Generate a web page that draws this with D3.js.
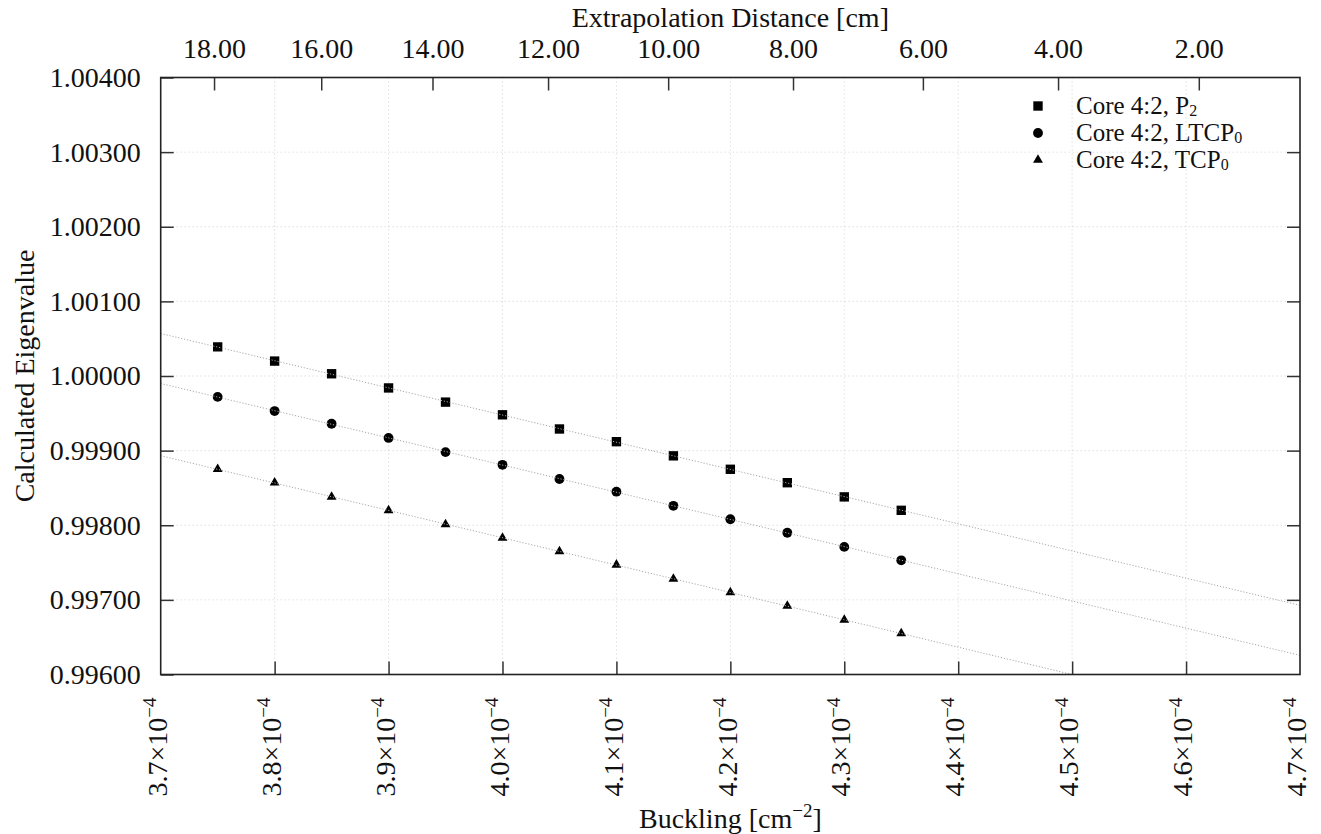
<!DOCTYPE html>
<html>
<head>
<meta charset="utf-8">
<script src="https://cdn.jsdelivr.net/npm/d3@7"></script>
<style>
  body { margin: 0; background: #fff; }
  svg text { font-family: "Liberation Serif", "Times New Roman", Tinos, "DejaVu Serif", "Noto Serif", serif; fill: #111; }
</style>
</head>
<body>
<div id="chart"></div>
<script>
// buckling values of the points [cm^-2]
const buckling = [3.75e-4, 3.80e-4, 3.85e-4, 3.90e-4, 3.95e-4, 4.00e-4, 4.05e-4,
                  4.10e-4, 4.15e-4, 4.20e-4, 4.25e-4, 4.30e-4, 4.35e-4]

// calculated eigenvalues
const p2 = [1.00039, 1.00020, 1.00003, 0.99984, 0.99965, 0.99948, 0.99929,
            0.99912, 0.99893, 0.99875, 0.99857, 0.99838, 0.99820]
const ltcp0 = [0.99972, 0.99953, 0.99936, 0.99917, 0.99898, 0.99881, 0.99862,
               0.99845, 0.99826, 0.99808, 0.99790, 0.99771, 0.99753]
const tcp0 = [0.99875, 0.99857, 0.99838, 0.99820, 0.99801, 0.99783, 0.99765,
              0.99747, 0.99728, 0.99710, 0.99692, 0.99673, 0.99655]

const xTicks = [3.7, 3.8, 3.9, 4.0, 4.1, 4.2, 4.3, 4.4, 4.5, 4.6, 4.7]   // x 1e-4
const yTicks = [0.996, 0.997, 0.998, 0.999, 1.000, 1.001, 1.002, 1.003, 1.004]
const distTicks = [18, 16, 14, 12, 10, 8, 6, 4, 2]   // extrapolation distance [cm]
const baseLength = 144.3   // cm, B = (pi / (L + d))^2

const series = [
  { name: 'P', sub: '2', values: p2, symbol: d3.symbolSquare, size: 88 },
  { name: 'LTCP', sub: '0', values: ltcp0, symbol: d3.symbolCircle, size: 76 },
  { name: 'TCP', sub: '0', values: tcp0, symbol: d3.symbolTriangle, size: 42 }
]

const width = 1321, height = 834
const plot = { left: 160.7, right: 1300, top: 77.5, bottom: 674.5 }
const serif = '"Liberation Serif", "Times New Roman", Tinos, "DejaVu Serif", "Noto Serif", serif'
const fontSize = 28, smallSize = 19

const x = d3.scaleLinear().domain([3.7e-4, 4.7e-4]).range([plot.left, plot.right])
const y = d3.scaleLinear().domain([0.996, 1.004]).range([plot.bottom, plot.top])

const svg = d3.select('#chart').append('svg')
  .attr('width', width)
  .attr('height', height)
  .attr('font-family', serif)

svg.append('clipPath').attr('id', 'plot-area')
  .append('rect')
  .attr('x', plot.left).attr('y', plot.top)
  .attr('width', plot.right - plot.left).attr('height', plot.bottom - plot.top)

// grid
const grid = svg.append('g')
  .attr('stroke', '#cfcfcf')
  .attr('stroke-width', 1)
  .attr('stroke-dasharray', '1,3')
grid.selectAll('.gx').data(xTicks.slice(1, -1)).enter().append('line')
  .attr('x1', d => x(d * 1e-4)).attr('x2', d => x(d * 1e-4))
  .attr('y1', plot.top).attr('y2', plot.bottom)
grid.selectAll('.gy').data(yTicks.slice(1, -1)).enter().append('line')
  .attr('x1', plot.left).attr('x2', plot.right)
  .attr('y1', d => y(d)).attr('y2', d => y(d))

// least squares fit for each series
function fit(xs, ys) {
  let mx = d3.mean(xs), my = d3.mean(ys)
  let sxy = d3.sum(xs, (v, i) => (v - mx) * (ys[i] - my))
  let sxx = d3.sum(xs, v => (v - mx) * (v - mx))
  let b = sxy / sxx
  return v => my + b * (v - mx)
}

const fg = svg.append('g').attr('clip-path', 'url(#plot-area)')

// points
series.forEach(s => {
  fg.append('g').selectAll('path')
    .data(s.values)
    .enter().append('path')
    .attr('transform', (v, i) => `translate(${x(buckling[i])},${y(v)})`)
    .attr('d', d3.symbol().type(s.symbol).size(s.size))
    .attr('fill', '#000')
})

// fit lines on top of the points
series.forEach(s => {
  let f = fit(buckling, s.values)
  fg.append('line')
    .attr('x1', x(3.7e-4)).attr('y1', y(f(3.7e-4)))
    .attr('x2', x(4.7e-4)).attr('y2', y(f(4.7e-4)))
    .attr('stroke', '#a8a8a8')
    .attr('stroke-width', 1)
    .attr('stroke-dasharray', '1.2,1.8')
})

// axes
let styleAxis = g => {
  g.attr('font-family', serif).attr('font-size', fontSize)
  g.select('.domain').remove()
  g.selectAll('.tick line').attr('stroke', '#333').attr('stroke-width', 1.5)
  g.selectAll('.tick text').attr('fill', '#111')
}

svg.append('g')
  .attr('transform', `translate(${plot.left},0)`)
  .call(d3.axisLeft(y).tickValues(yTicks).tickSize(-13).tickPadding(20).tickFormat(d3.format('.5f')))
  .call(styleAxis)

svg.append('g')
  .attr('transform', `translate(${plot.right},0)`)
  .call(d3.axisRight(y).tickValues(yTicks.slice(1, -1)).tickSize(-13).tickFormat(''))
  .call(styleAxis)

svg.append('g')
  .attr('transform', `translate(0,${plot.bottom})`)
  .call(d3.axisBottom(x).tickValues(xTicks.slice(1, -1).map(d => d * 1e-4)).tickSize(-13).tickFormat(''))
  .call(styleAxis)

let bLabels = svg.append('g').selectAll('text')
  .data(xTicks)
  .enter().append('text')
  .attr('transform', d => `translate(${x(d * 1e-4)},${plot.bottom + 23}) rotate(-90)`)
  .attr('text-anchor', 'end')
  .attr('dy', '0.22em')
  .attr('font-size', fontSize)
bLabels.append('tspan').text(d => d.toFixed(1) + '×10')
bLabels.append('tspan').attr('font-size', smallSize).attr('dy', '-0.55em').text('−4')

let topB = d => Math.pow(Math.PI / (baseLength + d), 2)
svg.append('g')
  .attr('transform', `translate(0,${plot.top})`)
  .call(d3.axisTop(x).tickValues(distTicks.map(topB)).tickSize(-13).tickPadding(20)
    .tickFormat((d, i) => d3.format('.2f')(distTicks[i])))
  .call(styleAxis)

// frame
svg.append('rect')
  .attr('x', plot.left).attr('y', plot.top)
  .attr('width', plot.right - plot.left).attr('height', plot.bottom - plot.top)
  .attr('fill', 'none')
  .attr('stroke', '#222')
  .attr('stroke-width', 1.6)

// axis titles
svg.append('text')
  .attr('x', (plot.left + plot.right) / 2).attr('y', 27)
  .attr('text-anchor', 'middle')
  .attr('font-size', fontSize)
  .text('Extrapolation Distance [cm]')

let xt = svg.append('text')
  .attr('x', (plot.left + plot.right) / 2).attr('y', 828)
  .attr('text-anchor', 'middle')
  .attr('font-size', fontSize)
xt.append('tspan').text('Buckling [cm')
xt.append('tspan').attr('font-size', smallSize).attr('dy', '-0.6em').text('−2')
xt.append('tspan').attr('dy', '0.4em').text(']')

svg.append('text')
  .attr('transform', `translate(34,${(plot.top + plot.bottom) / 2}) rotate(-90)`)
  .attr('text-anchor', 'middle')
  .attr('font-size', fontSize)
  .text('Calculated Eigenvalue')

// legend
let legend = svg.append('g')
  .selectAll('g')
  .data(series)
  .enter().append('g')
  .attr('transform', (s, i) => `translate(1038,${106 + i * 27})`)
legend.append('path')
  .attr('d', s => d3.symbol().type(s.symbol).size(s.size)())
  .attr('fill', '#000')
let lt = legend.append('text')
  .attr('x', 38).attr('y', 8)
  .attr('font-size', 25)
lt.append('tspan').text(s => 'Core 4:2, ' + s.name)
lt.append('tspan').attr('font-size', 16).attr('dy', '0.12em').text(s => s.sub)
</script>
</body>
</html>
